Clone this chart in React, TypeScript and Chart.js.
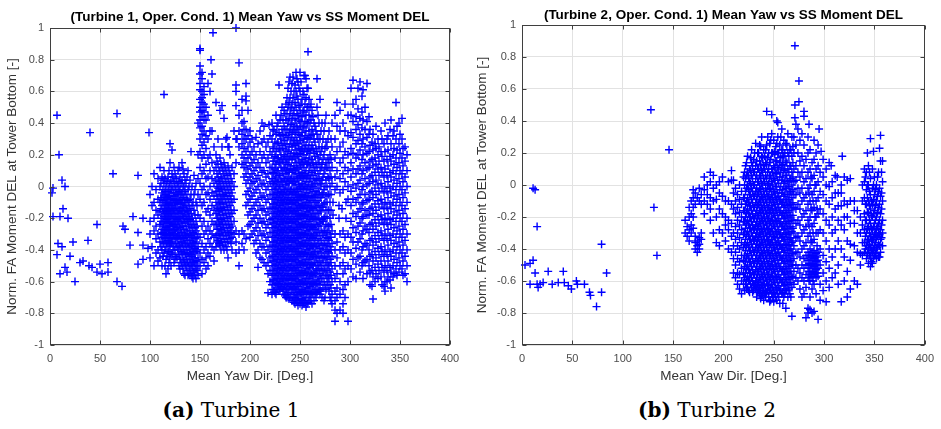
import React, { useEffect, useRef } from "react";
import { Chart, registerables } from "chart.js";

Chart.register(...registerables);

// ---------- axis ticks ----------
const xTickValues = [0, 50, 100, 150, 200, 250, 300, 350, 400];
const yTickValues = [-1, -0.8, -0.6, -0.4, -0.2, 0, 0.2, 0.4, 0.6, 0.8, 1];

// ---------- Turbine 1 data: [yaw, DEL] pairs ----------
const t1Sparse: number[][] = [
  [2, -0.04], [3, -0.01], [3, -0.19], [7, 0.45], [7, -0.43], [8, -0.36], [9, 0.2], [10, -0.19], [10, -0.55],
  [12, 0.04], [12, -0.38], [13, -0.14], [15, 0.0], [15, -0.51], [17, -0.54], [18, -0.2], [20, -0.44], [23, -0.35],
  [25, -0.6], [30, -0.48], [33, -0.47], [38, -0.34], [39, -0.5], [40, 0.34], [42, -0.51], [47, -0.24], [47, -0.54],
  [50, -0.49], [52, -0.55], [58, -0.48], [58, -0.54], [63, 0.08], [67, 0.46], [67, -0.6], [72, -0.63], [73, -0.25],
  [75, -0.27], [80, -0.37], [83, -0.19], [88, 0.07], [88, -0.29], [88, -0.49], [93, -0.2], [93, -0.37], [93, -0.46],
  [98, -0.39], [99, 0.34], [114, 0.58], [120, 0.27], [122, 0.23], [141, 0.22], [163, 0.97], [186, 1.0], [189, 0.78],
  [150, 0.87], [161, 0.8], [258, 0.85], [229, 0.64], [243, 0.69], [267, 0.68], [270, 0.55], [206, 0.31], [214, 0.38],
  [219, 0.39], [177, 0.31], [179, 0.25], [187, 0.3], [283, -0.1], [283, -0.18], [289, -0.12], [289, -0.2],
  [292, -0.14], [296, -0.1], [296, -0.2],
];

// rows: [yaw, DEL, DEL, ...]
const t1LeftCols: number[][] = [
  [100, -0.05, -0.22, -0.3, -0.45],
  [102, 0.0, -0.12, -0.38],
  [104, 0.08, -0.1, -0.2, -0.28, -0.5],
  [106, -0.02, -0.15, -0.25, -0.33, -0.42],
  [108, 0.05, -0.08, -0.18, -0.3, -0.4, -0.47],
  [110, 0.12, 0.0, -0.1, -0.16, -0.24, -0.35, -0.45],
  [112, 0.06, -0.04, -0.12, -0.2, -0.27, -0.32, -0.4, -0.5],
  [114, 0.1, 0.02, -0.06, -0.14, -0.19, -0.25, -0.3, -0.36, -0.42],
  [116, 0.0, -0.05, -0.1, -0.15, -0.2, -0.26, -0.31, -0.38, -0.46, -0.55],
  [118, 0.06, -0.03, -0.08, -0.13, -0.18, -0.23, -0.28, -0.34, -0.41, -0.52],
  [120, 0.15, 0.02, -0.04, -0.1, -0.16, -0.22, -0.27, -0.32, -0.37, -0.45],
  [122, 0.08, 0.0, -0.06, -0.12, -0.17, -0.23, -0.29, -0.35, -0.43],
  [124, 0.12, 0.03, -0.04, -0.09, -0.15, -0.2, -0.25, -0.3, -0.38, -0.48],
  [126, 0.05, -0.02, -0.08, -0.13, -0.19, -0.24, -0.3, -0.36, -0.44],
  [128, 0.1, 0.0, -0.05, -0.11, -0.17, -0.22, -0.28, -0.33, -0.4],
  [130, 0.06, -0.02, -0.08, -0.14, -0.2, -0.26, -0.32, -0.38, -0.46, -0.52],
  [132, 0.15, 0.04, -0.04, -0.1, -0.16, -0.22, -0.29, -0.35, -0.42, -0.5],
  [134, 0.08, 0.0, -0.07, -0.13, -0.2, -0.27, -0.33, -0.4, -0.47, -0.55],
  [136, 0.02, -0.05, -0.12, -0.18, -0.25, -0.31, -0.37, -0.43, -0.5],
  [138, 0.1, -0.02, -0.09, -0.16, -0.22, -0.3, -0.36, -0.42, -0.48, -0.56],
  [140, 0.04, -0.08, -0.14, -0.21, -0.28, -0.34, -0.4, -0.46, -0.52],
  [142, 0.0, -0.12, -0.2, -0.26, -0.32, -0.38, -0.44, -0.5, -0.57],
  [144, 0.07, -0.05, -0.15, -0.24, -0.3, -0.36, -0.42, -0.48, -0.54],
  [146, 0.02, -0.1, -0.22, -0.28, -0.35, -0.41, -0.47, -0.52, -0.58],
  [148, 0.4, 0.2, 0.05, -0.05, -0.18, -0.3, -0.38, -0.45, -0.5, -0.56],
];

const t1LeftOddCols: number[][] = [
  [111, 0.02, -0.07, -0.14, -0.22, -0.3, -0.38],
  [113, 0.04, -0.02, -0.09, -0.16, -0.23, -0.29, -0.35, -0.44],
  [115, 0.05, -0.03, -0.08, -0.12, -0.17, -0.22, -0.28, -0.33, -0.4, -0.5],
  [117, 0.03, -0.07, -0.11, -0.16, -0.21, -0.25, -0.3, -0.36, -0.44],
  [119, 0.1, 0.0, -0.06, -0.11, -0.15, -0.2, -0.25, -0.3, -0.35, -0.41, -0.48],
  [121, 0.04, -0.02, -0.08, -0.14, -0.19, -0.25, -0.31, -0.36, -0.42, -0.5],
  [123, 0.06, -0.02, -0.08, -0.14, -0.19, -0.24, -0.28, -0.33, -0.4],
  [125, 0.08, 0.0, -0.06, -0.11, -0.17, -0.22, -0.27, -0.33, -0.4, -0.46],
  [127, 0.02, -0.05, -0.1, -0.16, -0.21, -0.26, -0.32, -0.38, -0.45],
  [129, 0.12, 0.03, -0.03, -0.09, -0.15, -0.2, -0.25, -0.31, -0.37, -0.43, -0.5],
  [131, 0.02, -0.05, -0.11, -0.17, -0.23, -0.29, -0.35, -0.41, -0.48],
  [133, 0.11, 0.0, -0.07, -0.13, -0.19, -0.25, -0.32, -0.38, -0.45, -0.52],
  [135, 0.04, -0.03, -0.1, -0.16, -0.23, -0.3, -0.36, -0.42, -0.49, -0.56],
  [137, 0.06, -0.08, -0.15, -0.21, -0.28, -0.34, -0.4, -0.46, -0.53],
  [139, 0.0, -0.12, -0.19, -0.25, -0.32, -0.38, -0.44, -0.5, -0.55],
  [141, -0.05, -0.17, -0.24, -0.31, -0.37, -0.43, -0.49, -0.55],
  [143, -0.1, -0.22, -0.29, -0.35, -0.41, -0.47, -0.53, -0.58],
  [145, -0.02, -0.18, -0.26, -0.33, -0.39, -0.45, -0.5, -0.56],
  [147, -0.12, -0.25, -0.32, -0.4, -0.47, -0.53],
];

const t1SpikeCols: number[][] = [
  [150, 0.86, 0.76, 0.71, 0.65, 0.61, 0.55, 0.5, 0.47, 0.42, 0.37, 0.3, 0.22, 0.12, 0.02, -0.08, -0.2, -0.32, -0.42, -0.5],
  [152, 0.72, 0.68, 0.6, 0.56, 0.53, 0.48, 0.44, 0.38, 0.33, 0.26, 0.18, 0.08, -0.02, -0.12, -0.25, -0.36, -0.46, -0.55],
  [154, 0.63, 0.58, 0.52, 0.47, 0.42, 0.35, 0.28, 0.2, 0.1, 0.0, -0.1, -0.22, -0.3, -0.4, -0.48],
  [156, 0.5, 0.42, 0.32, 0.24, 0.14, 0.05, -0.05, -0.16, -0.28, -0.38, -0.45, -0.52],
  [158, 0.65, 0.45, 0.3, 0.18, 0.06, -0.04, -0.14, -0.25, -0.33, -0.42, -0.5],
  [160, 0.6, 0.35, 0.2, 0.1, 0.0, -0.08, -0.18, -0.28, -0.36, -0.44],
  [162, 0.71, 0.35, 0.15, 0.05, -0.04, -0.12, -0.22, -0.3, -0.38],
  [164, 0.25, 0.1, 0.02, -0.06, -0.15, -0.24, -0.32, -0.4, -0.47],
];

const t1MidCols: number[][] = [
  [166, 0.53, 0.2, 0.12, 0.04, -0.03, -0.1, -0.17, -0.24, -0.31, -0.38],
  [167, 0.16, 0.08, 0.0, -0.06, -0.13, -0.2, -0.27, -0.35],
  [168, 0.3, 0.14, 0.06, -0.01, -0.08, -0.14, -0.2, -0.27, -0.34],
  [169, 0.1, 0.03, -0.03, -0.1, -0.16, -0.23, -0.3, -0.36],
  [170, 0.48, 0.18, 0.1, 0.02, -0.05, -0.11, -0.18, -0.25, -0.3, -0.37],
  [171, 0.14, 0.06, -0.01, -0.08, -0.14, -0.21, -0.27, -0.33, -0.4],
  [172, 0.51, 0.25, 0.12, 0.05, -0.02, -0.08, -0.15, -0.22, -0.28, -0.35],
  [173, 0.1, 0.02, -0.05, -0.11, -0.18, -0.24, -0.31, -0.37],
  [174, 0.43, 0.15, 0.08, 0.0, -0.06, -0.13, -0.2, -0.26, -0.33, -0.4],
  [175, 0.12, 0.05, -0.02, -0.08, -0.15, -0.22, -0.29, -0.35],
  [176, 0.3, 0.1, 0.03, -0.04, -0.1, -0.17, -0.24, -0.31, -0.38],
  [177, 0.07, 0.0, -0.06, -0.13, -0.2, -0.26, -0.33, -0.4],
  [178, 0.25, 0.13, 0.05, -0.02, -0.08, -0.15, -0.22, -0.28, -0.35, -0.45],
  [179, 0.1, 0.02, -0.04, -0.1, -0.17, -0.24, -0.3],
  [180, 0.2, 0.08, 0.0, -0.06, -0.12, -0.19, -0.26, -0.33],
  [181, 0.05, -0.02, -0.08, -0.15, -0.22, -0.29, -0.36],
  [182, 0.12, 0.03, -0.04, -0.1, -0.17, -0.25, -0.32, -0.4],
  [184, 0.35, 0.08, 0.0, -0.08, -0.15, -0.22, -0.3],
  [186, 0.64, 0.6, 0.51, 0.3, 0.15, -0.28, -0.35, -0.42],
  [189, 0.45, 0.35, 0.25, -0.3, -0.4, -0.5],
  [192, 0.55, 0.48, 0.4, 0.33, 0.27, 0.2, 0.14, -0.28, -0.36],
  [194, 0.41, 0.36, 0.3, 0.24, 0.18, 0.12, 0.06, -0.3, -0.4],
  [196, 0.65, 0.57, 0.54, 0.36, 0.3, 0.22, 0.15, 0.08, 0.02, -0.05, -0.12, -0.33],
  [198, 0.48, 0.32, 0.25, 0.18, 0.11, 0.04, -0.03, -0.1, -0.18, -0.25],
  [200, 0.35, 0.28, 0.2, 0.13, 0.06, -0.01, -0.08, -0.16, -0.24, -0.32],
  [202, 0.3, 0.22, 0.15, 0.08, 0.02, -0.06, -0.14, -0.22, -0.3],
  [204, 0.25, 0.17, 0.1, 0.03, -0.04, -0.12, -0.2, -0.28, -0.36],
  [206, 0.2, 0.12, 0.05, -0.02, -0.1, -0.18, -0.26, -0.34, -0.42],
  [208, 0.27, 0.15, 0.07, 0.0, -0.08, -0.15, -0.23, -0.31, -0.4, -0.51],
  [210, 0.35, 0.22, 0.12, 0.04, -0.04, -0.12, -0.2, -0.28, -0.36, -0.45],
  [212, 0.4, 0.28, 0.18, 0.09, 0.01, -0.07, -0.15, -0.23, -0.31, -0.38, -0.46],
  [214, 0.3, 0.2, 0.1, 0.02, -0.06, -0.14, -0.22, -0.3, -0.38, -0.48],
  [216, 0.25, 0.15, 0.06, -0.02, -0.1, -0.18, -0.26, -0.34, -0.42, -0.5],
  [218, 0.28, 0.18, 0.08, 0.0, -0.08, -0.16, -0.24, -0.32, -0.4, -0.48, -0.55, -0.67],
  [220, 0.32, 0.22, 0.12, 0.03, -0.05, -0.13, -0.21, -0.29, -0.37, -0.45, -0.53, -0.6],
];

const t1CoreCols: number[][] = [
  [222, 0.4, 0.3, 0.2, 0.12, 0.05, -0.02, -0.08, -0.14, -0.2, -0.26, -0.32, -0.38, -0.44, -0.5, -0.56, -0.62, -0.68],
  [224, 0.35, 0.24, 0.16, 0.08, 0.01, -0.05, -0.11, -0.17, -0.23, -0.29, -0.35, -0.41, -0.47, -0.53, -0.59, -0.66],
  [226, 0.45, 0.33, 0.22, 0.14, 0.06, -0.01, -0.07, -0.13, -0.19, -0.25, -0.31, -0.37, -0.43, -0.49, -0.55, -0.61, -0.68],
  [228, 0.4, 0.28, 0.18, 0.1, 0.03, -0.04, -0.1, -0.16, -0.22, -0.28, -0.34, -0.4, -0.46, -0.52, -0.58, -0.62],
  [230, 0.42, 0.32, 0.23, 0.15, 0.07, 0.0, -0.06, -0.12, -0.18, -0.24, -0.3, -0.36, -0.42, -0.48, -0.54, -0.6, -0.65],
  [232, 0.5, 0.36, 0.26, 0.17, 0.1, 0.03, -0.04, -0.1, -0.16, -0.22, -0.28, -0.34, -0.4, -0.46, -0.52, -0.58, -0.64],
  [234, 0.48, 0.38, 0.29, 0.2, 0.12, 0.05, -0.02, -0.08, -0.14, -0.2, -0.26, -0.32, -0.38, -0.44, -0.5, -0.56, -0.62, -0.68],
  [236, 0.52, 0.42, 0.32, 0.23, 0.15, 0.08, 0.01, -0.05, -0.11, -0.17, -0.23, -0.29, -0.35, -0.41, -0.47, -0.53, -0.59, -0.65, -0.7],
  [238, 0.62, 0.5, 0.4, 0.31, 0.22, 0.14, 0.06, -0.01, -0.07, -0.13, -0.19, -0.25, -0.31, -0.37, -0.43, -0.49, -0.55, -0.61, -0.67],
  [240, 0.69, 0.56, 0.46, 0.36, 0.27, 0.19, 0.11, 0.04, -0.03, -0.09, -0.15, -0.21, -0.27, -0.33, -0.39, -0.45, -0.51, -0.57, -0.63, -0.7],
  [242, 0.65, 0.52, 0.42, 0.33, 0.25, 0.17, 0.09, 0.02, -0.05, -0.11, -0.17, -0.23, -0.29, -0.35, -0.41, -0.47, -0.53, -0.59, -0.65, -0.72],
  [244, 0.6, 0.48, 0.38, 0.29, 0.21, 0.13, 0.06, -0.01, -0.07, -0.13, -0.19, -0.25, -0.31, -0.37, -0.43, -0.49, -0.55, -0.61, -0.67, -0.73],
  [246, 0.72, 0.6, 0.5, 0.4, 0.31, 0.23, 0.15, 0.08, 0.01, -0.05, -0.11, -0.17, -0.23, -0.29, -0.35, -0.41, -0.47, -0.53, -0.59, -0.65, -0.71],
  [248, 0.66, 0.55, 0.45, 0.36, 0.27, 0.19, 0.11, 0.04, -0.03, -0.09, -0.15, -0.21, -0.27, -0.33, -0.39, -0.45, -0.51, -0.57, -0.63, -0.69, -0.75],
  [250, 0.72, 0.6, 0.48, 0.38, 0.29, 0.21, 0.13, 0.06, -0.01, -0.07, -0.13, -0.19, -0.25, -0.31, -0.37, -0.43, -0.49, -0.55, -0.61, -0.67, -0.74],
  [252, 0.55, 0.44, 0.34, 0.25, 0.17, 0.09, 0.02, -0.05, -0.11, -0.17, -0.23, -0.29, -0.35, -0.41, -0.47, -0.53, -0.59, -0.65, -0.71, -0.75],
  [254, 0.7, 0.58, 0.47, 0.37, 0.28, 0.2, 0.12, 0.05, -0.02, -0.08, -0.14, -0.2, -0.26, -0.32, -0.38, -0.44, -0.5, -0.56, -0.62, -0.68, -0.74],
  [256, 0.68, 0.56, 0.45, 0.35, 0.26, 0.18, 0.1, 0.03, -0.04, -0.1, -0.16, -0.22, -0.28, -0.34, -0.4, -0.46, -0.52, -0.58, -0.64, -0.7, -0.76],
  [258, 0.62, 0.5, 0.4, 0.31, 0.23, 0.15, 0.07, 0.0, -0.06, -0.12, -0.18, -0.24, -0.3, -0.36, -0.42, -0.48, -0.54, -0.6, -0.66, -0.73],
  [260, 0.5, 0.4, 0.3, 0.21, 0.13, 0.05, -0.02, -0.09, -0.15, -0.21, -0.27, -0.33, -0.39, -0.45, -0.51, -0.57, -0.63, -0.68, -0.72],
  [262, 0.48, 0.36, 0.26, 0.17, 0.09, 0.01, -0.06, -0.13, -0.19, -0.25, -0.31, -0.37, -0.43, -0.49, -0.55, -0.61, -0.67, -0.74],
  [264, 0.4, 0.3, 0.21, 0.12, 0.04, -0.03, -0.1, -0.17, -0.24, -0.3, -0.36, -0.42, -0.48, -0.54, -0.6, -0.66, -0.72],
  [266, 0.35, 0.24, 0.14, 0.05, -0.03, -0.1, -0.17, -0.24, -0.31, -0.38, -0.45, -0.52, -0.59, -0.65, -0.7],
  [268, 0.45, 0.3, 0.18, 0.08, -0.01, -0.09, -0.17, -0.25, -0.33, -0.41, -0.49, -0.57, -0.65],
  [270, 0.3, 0.2, 0.1, 0.01, -0.07, -0.15, -0.23, -0.31, -0.39, -0.47, -0.55, -0.62, -0.68],
  [272, 0.4, 0.25, 0.14, 0.04, -0.05, -0.13, -0.21, -0.29, -0.37, -0.45, -0.53, -0.6, -0.7],
  [274, 0.35, 0.2, 0.08, -0.02, -0.11, -0.2, -0.28, -0.36, -0.44, -0.52, -0.6, -0.72],
  [276, 0.45, 0.28, 0.15, 0.04, -0.06, -0.15, -0.24, -0.32, -0.4, -0.48, -0.56, -0.65],
  [278, 0.3, 0.18, 0.06, -0.05, -0.15, -0.25, -0.33, -0.41, -0.49, -0.57, -0.62],
  [280, 0.2, 0.1, 0.0, -0.1, -0.2, -0.3, -0.38, -0.46, -0.54, -0.62, -0.7],
  [282, 0.4, 0.25, 0.12, 0.02, -0.28, -0.36, -0.44, -0.52, -0.6, -0.68, -0.74],
];

const t1CoreOddCols: number[][] = [
  [223, 0.36, 0.25, 0.16, 0.09, 0.02, -0.05, -0.11, -0.17, -0.23, -0.29, -0.35, -0.41, -0.47, -0.53, -0.59, -0.65],
  [225, 0.28, 0.19, 0.11, 0.04, -0.02, -0.08, -0.14, -0.2, -0.26, -0.32, -0.38, -0.44, -0.5, -0.56, -0.62, -0.67],
  [227, 0.38, 0.27, 0.18, 0.1, 0.03, -0.04, -0.1, -0.16, -0.22, -0.28, -0.34, -0.4, -0.46, -0.52, -0.58, -0.64],
  [229, 0.34, 0.24, 0.15, 0.07, 0.0, -0.07, -0.13, -0.19, -0.25, -0.31, -0.37, -0.43, -0.49, -0.55, -0.61, -0.66],
  [231, 0.45, 0.3, 0.2, 0.12, 0.04, -0.03, -0.09, -0.15, -0.21, -0.27, -0.33, -0.39, -0.45, -0.51, -0.57, -0.63],
  [233, 0.42, 0.33, 0.24, 0.16, 0.08, 0.01, -0.05, -0.11, -0.17, -0.23, -0.29, -0.35, -0.41, -0.47, -0.53, -0.59, -0.66],
  [235, 0.46, 0.36, 0.27, 0.19, 0.11, 0.04, -0.02, -0.08, -0.14, -0.2, -0.26, -0.32, -0.38, -0.44, -0.5, -0.56, -0.62, -0.69],
  [237, 0.56, 0.46, 0.36, 0.27, 0.18, 0.1, 0.03, -0.04, -0.1, -0.16, -0.22, -0.28, -0.34, -0.4, -0.46, -0.52, -0.58, -0.64, -0.7],
  [239, 0.66, 0.53, 0.43, 0.34, 0.25, 0.17, 0.09, 0.02, -0.05, -0.11, -0.17, -0.23, -0.29, -0.35, -0.41, -0.47, -0.53, -0.59, -0.65, -0.71],
  [241, 0.6, 0.49, 0.39, 0.3, 0.21, 0.13, 0.05, -0.02, -0.08, -0.14, -0.2, -0.26, -0.32, -0.38, -0.44, -0.5, -0.56, -0.62, -0.68],
  [243, 0.56, 0.45, 0.35, 0.27, 0.19, 0.11, 0.03, -0.04, -0.1, -0.16, -0.22, -0.28, -0.34, -0.4, -0.46, -0.52, -0.58, -0.64, -0.7],
  [245, 0.64, 0.53, 0.43, 0.34, 0.26, 0.18, 0.1, 0.03, -0.04, -0.1, -0.16, -0.22, -0.28, -0.34, -0.4, -0.46, -0.52, -0.58, -0.64, -0.7, -0.74],
  [247, 0.68, 0.57, 0.46, 0.37, 0.28, 0.2, 0.12, 0.05, -0.02, -0.08, -0.14, -0.2, -0.26, -0.32, -0.38, -0.44, -0.5, -0.56, -0.62, -0.68, -0.73],
  [249, 0.62, 0.51, 0.42, 0.33, 0.24, 0.16, 0.08, 0.01, -0.06, -0.12, -0.18, -0.24, -0.3, -0.36, -0.42, -0.48, -0.54, -0.6, -0.66, -0.72],
  [251, 0.66, 0.52, 0.41, 0.32, 0.23, 0.15, 0.07, 0.0, -0.06, -0.12, -0.18, -0.24, -0.3, -0.36, -0.42, -0.48, -0.54, -0.6, -0.66, -0.71],
  [253, 0.6, 0.48, 0.38, 0.3, 0.22, 0.14, 0.06, -0.01, -0.07, -0.13, -0.19, -0.25, -0.31, -0.37, -0.43, -0.49, -0.55, -0.61, -0.67, -0.73],
  [255, 0.7, 0.52, 0.41, 0.32, 0.24, 0.16, 0.08, 0.01, -0.06, -0.12, -0.18, -0.24, -0.3, -0.36, -0.42, -0.48, -0.54, -0.6, -0.66, -0.72],
  [257, 0.62, 0.5, 0.4, 0.3, 0.22, 0.14, 0.06, -0.01, -0.07, -0.13, -0.19, -0.25, -0.31, -0.37, -0.43, -0.49, -0.55, -0.61, -0.67, -0.74],
  [259, 0.55, 0.45, 0.35, 0.26, 0.18, 0.1, 0.03, -0.04, -0.1, -0.16, -0.22, -0.28, -0.34, -0.4, -0.46, -0.52, -0.58, -0.64, -0.7],
  [261, 0.52, 0.42, 0.32, 0.23, 0.15, 0.07, 0.0, -0.07, -0.13, -0.19, -0.25, -0.31, -0.37, -0.43, -0.49, -0.55, -0.61, -0.67, -0.72],
  [263, 0.44, 0.33, 0.24, 0.15, 0.07, 0.0, -0.07, -0.14, -0.2, -0.26, -0.32, -0.38, -0.44, -0.5, -0.56, -0.62, -0.68],
  [265, 0.38, 0.28, 0.19, 0.1, 0.02, -0.06, -0.13, -0.2, -0.27, -0.34, -0.41, -0.48, -0.55, -0.62, -0.68],
  [267, 0.5, 0.33, 0.22, 0.12, 0.04, -0.05, -0.13, -0.21, -0.29, -0.37, -0.45, -0.53, -0.61, -0.67],
  [269, 0.4, 0.25, 0.15, 0.05, -0.04, -0.12, -0.2, -0.28, -0.36, -0.44, -0.52, -0.6, -0.66],
  [271, 0.35, 0.22, 0.12, 0.02, -0.07, -0.16, -0.25, -0.34, -0.42, -0.5, -0.58, -0.66],
  [273, 0.3, 0.17, 0.06, -0.04, -0.13, -0.22, -0.31, -0.4, -0.48, -0.56, -0.64],
  [275, 0.4, 0.24, 0.11, 0.0, -0.1, -0.19, -0.28, -0.37, -0.45, -0.53, -0.62, -0.7],
  [277, 0.25, 0.12, 0.0, -0.1, -0.2, -0.29, -0.37, -0.45, -0.53, -0.6],
  [279, 0.35, 0.15, 0.05, -0.05, -0.15, -0.25, -0.34, -0.42, -0.5, -0.58, -0.66],
  [281, 0.3, 0.17, 0.06, -0.05, -0.15, -0.24, -0.32, -0.4, -0.48, -0.56, -0.64, -0.72],
];

const t1RightCols: number[][] = [
  [285, 0.45, 0.3, 0.18, 0.06, -0.02, -0.3, -0.4, -0.5, -0.58, -0.66, -0.72, -0.78, -0.85],
  [287, 0.53, 0.38, 0.22, 0.1, 0.0, -0.35, -0.45, -0.55, -0.64, -0.7, -0.8],
  [290, 0.48, 0.35, 0.25, 0.15, 0.05, -0.04, -0.3, -0.4, -0.5, -0.6, -0.68, -0.78],
  [293, 0.4, 0.28, 0.18, 0.08, -0.02, -0.28, -0.38, -0.48, -0.55, -0.65, -0.74, -0.8],
  [295, 0.52, 0.35, 0.22, 0.12, 0.03, -0.32, -0.42, -0.52, -0.62, -0.7],
  [298, 0.45, 0.32, 0.2, 0.1, 0.0, -0.08, -0.3, -0.4, -0.5, -0.6, -0.85],
  [301, 0.62, 0.45, 0.34, 0.24, 0.15, 0.06, -0.03, -0.12, -0.22, -0.32, -0.42, -0.52],
  [303, 0.67, 0.52, 0.41, 0.31, 0.21, 0.11, 0.01, -0.08, -0.17, -0.26, -0.35, -0.46, -0.57],
  [306, 0.55, 0.44, 0.36, 0.27, 0.18, 0.08, -0.01, -0.1, -0.19, -0.29, -0.39, -0.49, -0.58],
  [308, 0.62, 0.49, 0.39, 0.29, 0.2, 0.11, 0.02, -0.07, -0.16, -0.25, -0.35, -0.45],
  [310, 0.66, 0.43, 0.33, 0.23, 0.13, 0.04, -0.05, -0.14, -0.23, -0.33, -0.44, -0.54],
  [312, 0.57, 0.47, 0.37, 0.27, 0.17, 0.08, -0.02, -0.11, -0.2, -0.3, -0.4, -0.5],
  [313, 0.61, 0.42, 0.3, 0.2, 0.1, 0.0, -0.1, -0.19, -0.28, -0.38, -0.48, -0.58],
  [315, 0.5, 0.36, 0.25, 0.15, 0.05, -0.05, -0.15, -0.25, -0.36, -0.47],
  [317, 0.65, 0.41, 0.31, 0.21, 0.11, 0.01, -0.09, -0.18, -0.27, -0.37, -0.46, -0.55],
  [319, 0.44, 0.33, 0.22, 0.12, 0.02, -0.08, -0.18, -0.29, -0.4, -0.5],
  [320, 0.36, 0.26, 0.16, 0.06, -0.04, -0.14, -0.24, -0.34, -0.44, -0.54, -0.62],
  [322, 0.28, 0.17, 0.07, -0.03, -0.13, -0.23, -0.33, -0.43, -0.53, -0.63],
  [323, 0.33, 0.23, 0.13, 0.03, -0.07, -0.17, -0.27, -0.37, -0.47, -0.57, -0.71],
  [325, 0.27, 0.18, 0.09, -0.01, -0.11, -0.21, -0.31, -0.41, -0.51, -0.6],
  [326, 0.38, 0.24, 0.14, 0.04, -0.05, -0.15, -0.25, -0.35, -0.45, -0.55],
  [328, 0.3, 0.2, 0.11, 0.01, -0.09, -0.19, -0.29, -0.39, -0.49, -0.58],
  [329, 0.25, 0.16, 0.07, -0.03, -0.13, -0.23, -0.33, -0.43, -0.53],
  [331, 0.35, 0.22, 0.12, 0.02, -0.08, -0.18, -0.28, -0.38, -0.47, -0.57],
  [332, 0.3, 0.19, 0.09, -0.01, -0.11, -0.21, -0.31, -0.41, -0.51, -0.62],
  [334, 0.27, 0.16, 0.06, -0.04, -0.14, -0.24, -0.34, -0.44, -0.54, -0.63],
  [335, 0.4, 0.22, 0.11, 0.0, -0.1, -0.2, -0.3, -0.4, -0.5, -0.6, -0.66],
  [337, 0.3, 0.17, 0.07, -0.03, -0.13, -0.23, -0.33, -0.43, -0.53, -0.6],
  [338, 0.32, 0.23, 0.13, 0.03, -0.07, -0.17, -0.27, -0.37, -0.47, -0.57],
  [340, 0.36, 0.19, 0.09, -0.01, -0.11, -0.21, -0.31, -0.41, -0.51, -0.59],
  [341, 0.42, 0.27, 0.16, 0.06, -0.04, -0.14, -0.24, -0.34, -0.44, -0.54, -0.64],
  [343, 0.32, 0.2, 0.1, 0.0, -0.1, -0.2, -0.3, -0.4, -0.5, -0.57],
  [344, 0.35, 0.24, 0.14, 0.04, -0.06, -0.16, -0.26, -0.36, -0.46, -0.55],
  [346, 0.53, 0.3, 0.18, 0.08, -0.02, -0.12, -0.22, -0.32, -0.42, -0.52],
  [347, 0.38, 0.23, 0.12, 0.02, -0.08, -0.18, -0.28, -0.38, -0.48, -0.56],
  [349, 0.4, 0.27, 0.15, 0.05, -0.05, -0.15, -0.25, -0.35, -0.45, -0.54],
  [350, 0.33, 0.21, 0.1, 0.0, -0.1, -0.2, -0.3, -0.4, -0.5],
  [352, 0.43, 0.3, 0.18, 0.08, -0.02, -0.12, -0.22, -0.32, -0.42, -0.52],
  [353, 0.24, 0.13, 0.03, -0.07, -0.17, -0.27, -0.37, -0.47, -0.56],
  [355, 0.25, 0.16, 0.06, -0.04, -0.14, -0.24, -0.34, -0.44, -0.55],
  [357, 0.2, 0.1, 0.0, -0.1, -0.2, -0.3, -0.4, -0.5, -0.6],
];

// ---------- Turbine 2 data ----------
const t2Sparse: number[][] = [
  [3, -0.5], [8, -0.49], [11, -0.47], [11, -0.02], [13, -0.03], [13, -0.55], [15, -0.26], [8, -0.62], [15, -0.62],
  [16, -0.64], [18, -0.62], [21, -0.61], [26, -0.54], [30, -0.62], [36, -0.61], [41, -0.54], [42, -0.61], [46, -0.63],
  [49, -0.65], [54, -0.6], [55, -0.62], [62, -0.62], [67, -0.67], [68, -0.69], [74, -0.76], [79, -0.67], [79, -0.37],
  [84, -0.55], [128, 0.47], [131, -0.14], [134, -0.44], [146, 0.22], [271, 0.87], [275, 0.65], [271, 0.5], [275, 0.52],
  [280, 0.46], [280, 0.43], [271, 0.42], [243, 0.46], [248, 0.44], [254, 0.39], [285, 0.38], [295, 0.35], [318, 0.18],
  [343, 0.2], [349, 0.21], [346, 0.29], [355, 0.23], [253, 0.4], [266, 0.22], [259, 0.18], [251, 0.21], [262, 0.26],
  [297, 0.21], [299, 0.16], [307, 0.12], [313, 0.05], [326, 0.04], [290, 0.28], [284, 0.3], [278, 0.32],
];

const t2LeftCols: number[][] = [
  [162, -0.22, -0.3],
  [164, -0.32, -0.26],
  [166, -0.14, -0.2, -0.28, -0.35],
  [168, -0.1, -0.18, -0.25, -0.3],
  [170, -0.03, -0.08, -0.14, -0.2, -0.27],
  [172, -0.05, -0.12, -0.32, -0.36, -0.4],
  [174, -0.08, -0.35, -0.38, -0.42],
  [176, -0.02, -0.1, -0.33, -0.37, -0.4],
  [178, -0.06, -0.12, -0.3, -0.34],
  [181, 0.05, -0.03, -0.1, -0.18],
  [184, 0.0, -0.06, -0.12],
  [187, 0.08, 0.02, -0.08, -0.15, -0.22],
  [190, 0.06, -0.02, -0.1, -0.3],
  [193, 0.0, -0.09, -0.2, -0.36],
  [196, 0.02, -0.05, -0.15, -0.28, -0.38],
  [199, 0.05, -0.07, -0.18, -0.3],
  [202, -0.1, -0.2, -0.25, -0.35],
  [205, 0.02, -0.1, -0.22, -0.28, -0.4],
  [208, 0.09, 0.03, -0.12, -0.24, -0.32, -0.42],
  [210, 0.03, -0.05, -0.15, -0.3, -0.38, -0.46, -0.55],
  [212, -0.02, -0.1, -0.18, -0.26, -0.34, -0.42, -0.5, -0.58],
  [214, -0.06, -0.14, -0.22, -0.3, -0.38, -0.46, -0.55, -0.62],
  [216, 0.0, -0.09, -0.17, -0.25, -0.33, -0.4, -0.48, -0.56, -0.65],
  [218, -0.04, -0.12, -0.2, -0.28, -0.36, -0.44, -0.52, -0.6, -0.68],
  [220, 0.05, -0.08, -0.16, -0.23, -0.31, -0.39, -0.47, -0.55, -0.62],
];

const t2CoreCols: number[][] = [
  [222, 0.12, 0.04, -0.04, -0.12, -0.2, -0.27, -0.34, -0.41, -0.48, -0.55, -0.62],
  [224, 0.18, 0.08, 0.0, -0.08, -0.15, -0.22, -0.29, -0.36, -0.43, -0.5, -0.57, -0.64],
  [226, 0.1, 0.02, -0.06, -0.13, -0.2, -0.27, -0.34, -0.41, -0.48, -0.55, -0.6, -0.67],
  [228, 0.22, 0.14, 0.06, -0.02, -0.09, -0.16, -0.23, -0.3, -0.37, -0.44, -0.51, -0.58, -0.64],
  [230, 0.16, 0.08, 0.0, -0.07, -0.14, -0.21, -0.28, -0.35, -0.42, -0.49, -0.56, -0.62, -0.66],
  [232, 0.26, 0.12, 0.04, -0.04, -0.11, -0.18, -0.25, -0.32, -0.39, -0.46, -0.53, -0.6, -0.65],
  [234, 0.2, 0.1, 0.02, -0.06, -0.13, -0.2, -0.27, -0.34, -0.41, -0.48, -0.55, -0.62, -0.67],
  [236, 0.25, 0.15, 0.06, -0.02, -0.09, -0.16, -0.23, -0.3, -0.37, -0.44, -0.51, -0.58, -0.64, -0.68],
  [238, 0.3, 0.18, 0.09, 0.01, -0.07, -0.14, -0.21, -0.28, -0.35, -0.42, -0.49, -0.56, -0.63, -0.69],
  [240, 0.22, 0.12, 0.04, -0.04, -0.11, -0.18, -0.25, -0.32, -0.39, -0.46, -0.53, -0.6, -0.66, -0.72],
  [242, 0.22, 0.14, 0.06, -0.02, -0.09, -0.16, -0.23, -0.3, -0.37, -0.44, -0.51, -0.58, -0.65, -0.7],
  [244, 0.3, 0.17, 0.08, 0.0, -0.07, -0.14, -0.21, -0.28, -0.35, -0.42, -0.49, -0.56, -0.62, -0.66],
  [246, 0.26, 0.14, 0.05, -0.03, -0.1, -0.17, -0.24, -0.31, -0.38, -0.45, -0.52, -0.59, -0.66, -0.73],
  [248, 0.32, 0.2, 0.1, 0.02, -0.06, -0.13, -0.2, -0.27, -0.34, -0.41, -0.48, -0.55, -0.62, -0.68],
  [250, 0.28, 0.12, 0.04, -0.04, -0.11, -0.18, -0.25, -0.32, -0.39, -0.46, -0.53, -0.6, -0.67, -0.73],
  [252, 0.24, 0.15, 0.07, -0.01, -0.08, -0.15, -0.22, -0.29, -0.36, -0.43, -0.5, -0.57, -0.64, -0.7],
  [254, 0.3, 0.2, 0.11, 0.03, -0.05, -0.12, -0.19, -0.26, -0.33, -0.4, -0.47, -0.54, -0.61, -0.68],
  [256, 0.25, 0.14, 0.05, -0.03, -0.1, -0.17, -0.24, -0.31, -0.38, -0.45, -0.52, -0.59, -0.66, -0.74],
  [258, 0.35, 0.22, 0.12, 0.03, -0.05, -0.12, -0.19, -0.26, -0.33, -0.4, -0.47, -0.54, -0.61, -0.68],
  [260, 0.28, 0.18, 0.09, 0.01, -0.07, -0.14, -0.21, -0.28, -0.35, -0.42, -0.49, -0.56, -0.63, -0.7],
  [262, 0.15, 0.06, -0.02, -0.09, -0.16, -0.23, -0.3, -0.37, -0.44, -0.51, -0.58, -0.65, -0.77],
  [264, 0.32, 0.2, 0.1, 0.02, -0.06, -0.13, -0.2, -0.27, -0.34, -0.41, -0.48, -0.55, -0.62, -0.7],
  [266, 0.12, 0.03, -0.05, -0.12, -0.19, -0.26, -0.33, -0.4, -0.47, -0.54, -0.61, -0.68],
  [268, 0.3, 0.18, 0.08, 0.0, -0.08, -0.15, -0.22, -0.29, -0.36, -0.43, -0.5, -0.57, -0.64, -0.82],
  [270, 0.3, 0.2, 0.1, 0.02, -0.06, -0.14, -0.22, -0.3, -0.38, -0.46, -0.54, -0.62],
  [272, 0.38, 0.25, 0.12, 0.03, -0.06, -0.15, -0.24, -0.33, -0.42, -0.5, -0.58],
  [274, 0.35, 0.2, 0.08, -0.02, -0.12, -0.22, -0.32, -0.42, -0.52, -0.6],
  [276, 0.28, 0.15, 0.05, -0.05, -0.15, -0.25, -0.35, -0.45, -0.55, -0.65],
  [278, 0.18, 0.08, -0.02, -0.1, -0.2, -0.3, -0.4, -0.5, -0.58, -0.7],
  [280, 0.25, 0.12, 0.02, -0.08, -0.18, -0.28, -0.38, -0.46, -0.52, -0.6, -0.68],
  [282, 0.16, 0.04, -0.06, -0.16, -0.26, -0.36, -0.44, -0.5, -0.56, -0.64, -0.83],
  [284, 0.2, 0.08, -0.02, -0.12, -0.22, -0.32, -0.42, -0.47, -0.52, -0.58, -0.77, -0.8],
  [286, 0.22, 0.1, 0.0, -0.1, -0.2, -0.3, -0.4, -0.45, -0.5, -0.55, -0.6, -0.7, -0.78],
  [288, 0.14, 0.04, -0.06, -0.16, -0.26, -0.36, -0.42, -0.47, -0.52, -0.57, -0.65, -0.8],
  [290, 0.16, 0.06, -0.04, -0.14, -0.24, -0.34, -0.41, -0.46, -0.51, -0.56, -0.62, -0.79],
  [292, 0.2, 0.1, 0.0, -0.1, -0.2, -0.3, -0.43, -0.48, -0.53, -0.58, -0.68],
  [294, 0.25, 0.12, 0.02, -0.08, -0.18, -0.3, -0.42, -0.47, -0.52, -0.57, -0.84],
  [296, 0.08, -0.04, -0.15, -0.28, -0.4, -0.5, -0.62, -0.72],
];

const t2CoreOddCols: number[][] = [
  [221, 0.08, 0.0, -0.08, -0.16, -0.23, -0.3, -0.37, -0.44, -0.51, -0.58, -0.66],
  [223, 0.14, 0.06, -0.02, -0.1, -0.17, -0.24, -0.31, -0.38, -0.45, -0.52, -0.59, -0.65],
  [225, 0.05, -0.03, -0.11, -0.18, -0.25, -0.32, -0.39, -0.46, -0.53, -0.6, -0.66],
  [227, 0.17, 0.09, 0.01, -0.06, -0.13, -0.2, -0.27, -0.34, -0.41, -0.48, -0.55, -0.62],
  [229, 0.12, 0.04, -0.04, -0.11, -0.18, -0.25, -0.32, -0.39, -0.46, -0.53, -0.6, -0.67],
  [231, 0.2, 0.08, 0.0, -0.07, -0.14, -0.21, -0.28, -0.35, -0.42, -0.49, -0.56, -0.63],
  [233, 0.15, 0.06, -0.02, -0.09, -0.16, -0.23, -0.3, -0.37, -0.44, -0.51, -0.58, -0.64, -0.7],
  [235, 0.2, 0.1, 0.02, -0.05, -0.12, -0.19, -0.26, -0.33, -0.4, -0.47, -0.54, -0.61, -0.66],
  [237, 0.24, 0.13, 0.05, -0.03, -0.1, -0.17, -0.24, -0.31, -0.38, -0.45, -0.52, -0.59, -0.66, -0.71],
  [239, 0.17, 0.08, 0.0, -0.08, -0.15, -0.22, -0.29, -0.36, -0.43, -0.5, -0.57, -0.63, -0.68],
  [241, 0.18, 0.1, 0.02, -0.06, -0.13, -0.2, -0.27, -0.34, -0.41, -0.48, -0.55, -0.62, -0.68],
  [243, 0.25, 0.13, 0.04, -0.04, -0.11, -0.18, -0.25, -0.32, -0.39, -0.46, -0.53, -0.6, -0.67],
  [245, 0.2, 0.1, 0.01, -0.07, -0.14, -0.21, -0.28, -0.35, -0.42, -0.49, -0.56, -0.63, -0.7],
  [247, 0.28, 0.16, 0.06, -0.02, -0.09, -0.16, -0.23, -0.3, -0.37, -0.44, -0.51, -0.58, -0.65, -0.72],
  [249, 0.2, 0.08, 0.0, -0.08, -0.15, -0.22, -0.29, -0.36, -0.43, -0.5, -0.57, -0.64, -0.7],
  [251, 0.19, 0.11, 0.03, -0.05, -0.12, -0.19, -0.26, -0.33, -0.4, -0.47, -0.54, -0.61, -0.68],
  [253, 0.26, 0.15, 0.07, -0.01, -0.09, -0.16, -0.23, -0.3, -0.37, -0.44, -0.51, -0.58, -0.65, -0.72],
  [255, 0.2, 0.1, 0.01, -0.07, -0.14, -0.21, -0.28, -0.35, -0.42, -0.49, -0.56, -0.63, -0.7],
  [257, 0.3, 0.17, 0.08, -0.01, -0.09, -0.16, -0.23, -0.3, -0.37, -0.44, -0.51, -0.58, -0.65],
  [259, 0.22, 0.13, 0.05, -0.03, -0.11, -0.18, -0.25, -0.32, -0.39, -0.46, -0.53, -0.6, -0.67, -0.74],
  [261, 0.2, 0.1, 0.02, -0.06, -0.13, -0.2, -0.27, -0.34, -0.41, -0.48, -0.55, -0.62, -0.68],
  [263, 0.25, 0.14, 0.06, -0.02, -0.1, -0.17, -0.24, -0.31, -0.38, -0.45, -0.52, -0.59, -0.66],
  [265, 0.18, 0.08, -0.01, -0.09, -0.16, -0.23, -0.3, -0.37, -0.44, -0.51, -0.58, -0.65],
  [267, 0.22, 0.12, 0.04, -0.04, -0.12, -0.19, -0.26, -0.33, -0.4, -0.47, -0.54, -0.61, -0.7],
  [269, 0.24, 0.14, 0.05, -0.03, -0.11, -0.19, -0.27, -0.35, -0.43, -0.5, -0.58],
  [285, -0.05, -0.25, -0.44, -0.49, -0.54, -0.6],
  [287, 0.05, -0.15, -0.35, -0.44, -0.5, -0.56],
  [289, -0.1, -0.3, -0.44, -0.49, -0.54, -0.6],
  [291, 0.0, -0.2, -0.45, -0.5, -0.55],
  [293, -0.15, -0.38, -0.45, -0.5, -0.55],
];

const t2RightCols: number[][] = [
  [299, 0.05, -0.06, -0.18, -0.3, -0.44, -0.55, -0.66],
  [302, 0.1, 0.0, -0.1, -0.22, -0.35, -0.48, -0.6, -0.73],
  [305, 0.14, -0.01, -0.12, -0.25, -0.4, -0.52, -0.64],
  [308, 0.02, -0.08, -0.2, -0.3, -0.45, -0.58],
  [311, 0.06, -0.05, -0.15, -0.28, -0.4, -0.55],
  [314, -0.05, -0.13, -0.22, -0.35, -0.5, -0.62],
  [317, 0.0, -0.05, -0.13, -0.25, -0.4, -0.73],
  [320, 0.05, -0.1, -0.2, -0.28, -0.45, -0.6],
  [323, 0.03, -0.12, -0.2, -0.35, -0.54, -0.7],
  [326, -0.1, -0.24, -0.37, -0.47, -0.65],
  [330, -0.1, -0.16, -0.24, -0.38, -0.6],
  [333, -0.16, -0.3, -0.42, -0.62],
  [336, -0.2, -0.3, -0.43, -0.5],
  [338, 0.0, -0.1, -0.25, -0.36, -0.44],
  [340, 0.1, 0.02, -0.08, -0.18, -0.28, -0.36, -0.42],
  [341, 0.05, -0.12, -0.22, -0.32, -0.4],
  [342, 0.08, -0.03, -0.12, -0.22, -0.3, -0.38, -0.46],
  [343, 0.0, -0.08, -0.17, -0.27, -0.35, -0.43],
  [344, 0.12, 0.0, -0.1, -0.18, -0.26, -0.34, -0.4, -0.49],
  [345, 0.08, -0.04, -0.13, -0.22, -0.3, -0.37, -0.44],
  [346, 0.04, -0.06, -0.15, -0.24, -0.32, -0.39, -0.45, -0.51],
  [347, -0.1, -0.19, -0.27, -0.34, -0.41, -0.48],
  [348, 0.1, -0.02, -0.12, -0.2, -0.28, -0.35, -0.42, -0.49],
  [349, 0.0, -0.09, -0.18, -0.26, -0.33, -0.4, -0.46],
  [350, 0.05, -0.06, -0.16, -0.24, -0.31, -0.38, -0.44],
  [351, -0.03, -0.13, -0.22, -0.3, -0.36, -0.43],
  [352, 0.0, -0.1, -0.2, -0.27, -0.33, -0.4, -0.46],
  [353, 0.05, -0.07, -0.17, -0.26, -0.32, -0.39],
  [354, 0.08, -0.04, -0.14, -0.24, -0.3, -0.37, -0.45],
  [355, -0.02, -0.12, -0.22, -0.31, -0.38, -0.45],
  [356, 0.31, 0.15, -0.07, -0.18, -0.28, -0.34, -0.42],
  [357, 0.08, -0.05, -0.15, -0.25, -0.33],
  [358, 0.15, 0.02, -0.1, -0.22, -0.3, -0.38],
];

// ---------- helpers ----------
function pairsToPoints(pairs: number[][]) {
  return pairs.map((p) => ({ x: p[0], y: p[1] }));
}
function colsToPoints(cols: number[][]) {
  const out: { x: number; y: number }[] = [];
  for (const c of cols) {
    for (let i = 1; i < c.length; i++) out.push({ x: c[0], y: c[i] });
  }
  return out;
}

const FONT = '"Liberation Sans", Arial, Helvetica, sans-serif';
const TICK_COLOR = "#4d4d4d";

const framePlugin = {
  id: "matlabFrame",
  afterDatasetsDraw(chart: any, _args: any, opts: any) {
    const { ctx, chartArea } = chart;
    const { left, right, top, bottom } = chartArea;
    const xs = chart.scales.x;
    const ys = chart.scales.y;
    ctx.save();
    ctx.strokeStyle = "#3f3f3f";
    ctx.lineWidth = 1;
    const L = Math.round(left) + 0.5;
    const R = Math.round(right) - 0.5;
    const T = Math.round(top) + 0.5;
    const B = Math.round(bottom) - 0.5;
    ctx.strokeRect(L, T, R - L, B - T);
    ctx.beginPath();
    for (const v of xTickValues) {
      const px = Math.round(xs.getPixelForValue(v)) + 0.5;
      ctx.moveTo(px, B);
      ctx.lineTo(px, B - 4);
      ctx.moveTo(px, T);
      ctx.lineTo(px, T + 4);
    }
    for (const v of yTickValues) {
      const py = Math.round(ys.getPixelForValue(v)) + 0.5;
      ctx.moveTo(L, py);
      ctx.lineTo(L + 4, py);
      ctx.moveTo(R, py);
      ctx.lineTo(R - 4, py);
    }
    ctx.stroke();
    ctx.fillStyle = "#000";
    ctx.font = "bold 13.5px " + FONT;
    ctx.textAlign = "center";
    ctx.textBaseline = "middle";
    ctx.fillText(opts.title, (left + right) / 2, opts.titleY);
    ctx.restore();
  },
};

type PanelCfg = {
  left: number;
  width: number;
  yAxisWidth: number;
  padRight: number;
  padTop: number;
  title: string;
  titleY: number;
  points: { x: number; y: number }[];
};

const CANVAS_H = 390;

const panels: PanelCfg[] = [
  {
    left: 0,
    width: 470,
    yAxisWidth: 50,
    padRight: 20,
    padTop: 28,
    title: "(Turbine 1, Oper. Cond. 1) Mean Yaw vs SS Moment DEL",
    titleY: 17,
    points: [
      ...pairsToPoints(t1Sparse),
      ...colsToPoints(t1LeftCols),
      ...colsToPoints(t1LeftOddCols),
      ...colsToPoints(t1SpikeCols),
      ...colsToPoints(t1MidCols),
      ...colsToPoints(t1CoreCols),
      ...colsToPoints(t1CoreOddCols),
      ...colsToPoints(t1RightCols),
    ],
  },
  {
    left: 470,
    width: 471,
    yAxisWidth: 52,
    padRight: 13,
    padTop: 25,
    title: "(Turbine 2, Oper. Cond. 1) Mean Yaw vs SS Moment DEL",
    titleY: 15,
    points: [
      ...pairsToPoints(t2Sparse),
      ...colsToPoints(t2LeftCols),
      ...colsToPoints(t2CoreCols),
      ...colsToPoints(t2CoreOddCols),
      ...colsToPoints(t2RightCols),
    ],
  },
];

function Panel({ cfg }: { cfg: PanelCfg }) {
  const ref = useRef<HTMLCanvasElement>(null);
  useEffect(() => {
    const chart = new Chart(ref.current as HTMLCanvasElement, {
      type: "scatter",
      data: {
        datasets: [
          {
            data: cfg.points,
            pointStyle: "cross",
            pointRadius: 4,
            pointHoverRadius: 4,
            pointBorderWidth: 1.4,
            borderColor: "#0000ff",
            backgroundColor: "#0000ff",
            showLine: false,
            clip: false as any,
          } as any,
        ],
      },
      options: {
        animation: false,
        responsive: false,
        devicePixelRatio: 1,
        events: [],
        layout: { padding: { top: cfg.padTop, left: 0, right: cfg.padRight, bottom: 0 } },
        plugins: {
          legend: { display: false },
          tooltip: { enabled: false },
          title: { display: false },
          matlabFrame: { title: cfg.title, titleY: cfg.titleY },
        } as any,
        scales: {
          x: {
            type: "linear",
            min: 0,
            max: 400,
            afterFit: (s: any) => {
              s.height = CANVAS_H - 345;
            },
            afterBuildTicks: (s: any) => {
              s.ticks = xTickValues.map((v) => ({ value: v }));
            },
            border: { display: false },
            grid: { color: "#e2e2e2", lineWidth: 1, drawTicks: false },
            ticks: {
              autoSkip: false,
              maxRotation: 0,
              padding: 7,
              color: TICK_COLOR,
              font: { family: FONT, size: 11 },
              callback: (v: any) => String(v),
            },
            title: {
              display: true,
              text: "Mean Yaw Dir. [Deg.]",
              color: "#333",
              font: { family: FONT, size: 13.5 },
              padding: { top: 0, bottom: 6 },
            },
          },
          y: {
            type: "linear",
            min: -1,
            max: 1,
            afterFit: (s: any) => {
              s.width = cfg.yAxisWidth;
            },
            afterBuildTicks: (s: any) => {
              s.ticks = yTickValues.map((v) => ({ value: v }));
            },
            border: { display: false },
            grid: { color: "#e2e2e2", lineWidth: 1, drawTicks: false },
            ticks: {
              autoSkip: false,
              padding: 6,
              color: TICK_COLOR,
              font: { family: FONT, size: 11 },
              callback: (v: any) => String(Math.round(Number(v) * 10) / 10),
            },
            title: {
              display: true,
              text: "Norm. FA Moment DEL at Tower Bottom [-]",
              color: "#333",
              font: { family: FONT, size: 13.5 },
              padding: { top: 4, bottom: 0 },
            },
          },
        },
      } as any,
      plugins: [framePlugin as any],
    });
    return () => chart.destroy();
  }, [cfg]);
  return (
    <canvas
      ref={ref}
      width={cfg.width}
      height={CANVAS_H}
      style={{ position: "absolute", left: cfg.left, top: 0, width: cfg.width, height: CANVAS_H }}
    />
  );
}

const captionStyle: React.CSSProperties = {
  position: "absolute",
  top: 400,
  width: 300,
  height: 22,
  lineHeight: "20px",
  textAlign: "center",
  fontFamily: '"DejaVu Serif", "Liberation Serif", serif',
  fontSize: 20,
  color: "#000",
  whiteSpace: "nowrap",
};

export default function App() {
  return (
    <div style={{ position: "absolute", left: 0, top: 0, width: 941, height: 429, background: "#fff", overflow: "hidden" }}>
      {panels.map((p, i) => (
        <Panel key={i} cfg={p} />
      ))}
      <div style={{ ...captionStyle, left: 231 - 150 }}>
        <span style={{ fontWeight: "bold" }}>(a)</span> Turbine 1
      </div>
      <div style={{ ...captionStyle, left: 707 - 150 }}>
        <span style={{ fontWeight: "bold" }}>(b)</span> Turbine 2
      </div>
    </div>
  );
}
